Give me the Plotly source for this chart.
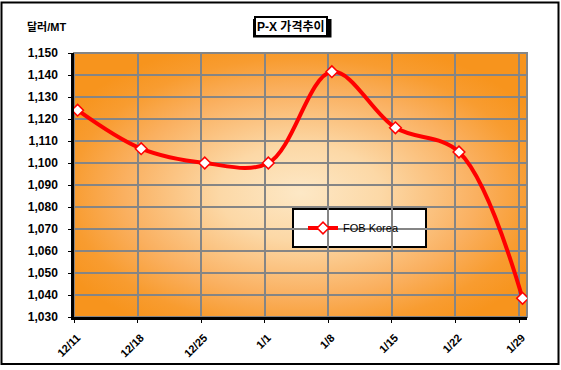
import base64
import plotly.graph_objects as go

# ---- data ----
categories = ["12/11", "12/18", "12/25", "1/1", "1/8", "1/15", "1/22", "1/29"]
fob_korea = [1124, 1106.5, 1100, 1100, 1141.5, 1116, 1105, 1038.5]
y_ticks = list(range(1030, 1151, 10))
series_name = "FOB Korea"
title_text = "P-X 가격추이"
unit_text = "달러/MT"

# ---- geometry helpers (pixel -> paper) ----
W, H = 561, 370
L, R, T, B = 74, 527, 53, 317
PW, PH = R - L, B - T


def fx(px):
    return (px - L) / PW


def fy(py):
    return (B - py) / PH


idx = list(range(len(categories)))
tick_pos = [i - 0.055 for i in idx]

FONT = "Liberation Sans, Arial, Noto Sans CJK KR, sans-serif"

# radial (centre-out) gradient for plot background
svg = (
    "<svg xmlns='http://www.w3.org/2000/svg' width='453' height='264' "
    "viewBox='0 0 453 264' preserveAspectRatio='none'>"
    "<defs><radialGradient id='g' cx='0.5' cy='0.53' r='0.6'>"
    "<stop offset='0' stop-color='#FDE8C6'/>"
    "<stop offset='0.3' stop-color='#FCD8A6'/>"
    "<stop offset='0.65' stop-color='#FAB060'/>"
    "<stop offset='0.85' stop-color='#F89C30'/>"
    "<stop offset='1' stop-color='#F7941D'/>"
    "</radialGradient></defs>"
    "<rect x='0' y='0' width='453' height='264' fill='url(#g)'/></svg>"
)
src = "data:image/svg+xml;base64," + base64.b64encode(svg.encode("utf-8")).decode("ascii")

fig = go.Figure()
fig.add_trace(
    go.Scatter(
        x=idx,
        y=fob_korea,
        mode="lines+markers",
        name=series_name,
        line=dict(color="#FF0000", width=4, shape="spline", smoothing=1.0),
        marker=dict(symbol="diamond", size=9, color="white",
                    line=dict(color="#FF0000", width=1.5)),
    )
)

fig.update_layout(
    width=W,
    height=H,
    autosize=False,
    margin=dict(l=L, r=W - R, t=T, b=H - B, pad=0, autoexpand=False),
    paper_bgcolor="white",
    plot_bgcolor="#F7941D",
    font=dict(family=FONT, color="black", size=12),
    showlegend=True,
    legend=dict(
        x=fx(303), y=fy(228), xanchor="left", yanchor="middle",
        bgcolor="rgba(0,0,0,0)", borderwidth=0,
        font=dict(family=FONT, size=11, color="black"),
        itemwidth=30,
    ),
    xaxis=dict(
        range=[-0.057, 7.07],
        tickmode="array",
        tickvals=tick_pos,
        ticktext=categories,
        tickangle=-45,
        automargin=False,
        showgrid=True, gridcolor="#858585", gridwidth=2,
        showline=True, linecolor="black", linewidth=3,
        ticks="outside", ticklen=3, tickcolor="black", tickwidth=1,
        tickfont=dict(family=FONT, size=11, color="black", weight="bold"),
        ticklabelshift=3,
        ticklabelstandoff=4,
        zeroline=False,
        fixedrange=True,
    ),
    yaxis=dict(
        range=[1030, 1150],
        tickmode="array",
        tickvals=y_ticks,
        tickformat=",",
        automargin=False,
        showgrid=True, gridcolor="#858585", gridwidth=2,
        showline=True, linecolor="black", linewidth=2.5,
        ticks="outside", ticklen=3, tickcolor="black", tickwidth=1,
        tickfont=dict(family=FONT, size=12, color="black", weight="bold"),
        ticklabelstandoff=8,
        zeroline=False,
        fixedrange=True,
    ),
    images=[dict(
        source=src, xref="paper", yref="paper", x=0, y=1,
        sizex=1, sizey=1, sizing="stretch", layer="below",
        xanchor="left", yanchor="top",
    )],
    shapes=[
        # outer chart border
        dict(type="rect", xref="paper", yref="paper",
             x0=fx(1.5), x1=fx(558.5), y0=fy(364), y1=fy(2.5),
             line=dict(color="black", width=2), fillcolor="rgba(0,0,0,0)", layer="above"),
        # plot-area outline (grey)
        dict(type="rect", xref="paper", yref="paper",
             x0=0, x1=1, y0=0, y1=1,
             line=dict(color="#858585", width=2), fillcolor="rgba(0,0,0,0)", layer="between"),
        # legend box
        dict(type="rect", xref="paper", yref="paper",
             x0=fx(293), x1=fx(426), y0=fy(247), y1=fy(209),
             line=dict(color="black", width=2), fillcolor="white", layer="between"),
        # title box shadow
        dict(type="rect", xref="paper", yref="paper",
             x0=fx(253), x1=fx(331.5), y0=fy(37.5), y1=fy(19),
             line=dict(color="black", width=0), fillcolor="black", layer="above"),
    ],
    annotations=[
        dict(text=title_text, xref="paper", yref="paper",
             x=fx(290.5), y=fy(26.5), xanchor="center", yanchor="middle",
             showarrow=False, bgcolor="white", bordercolor="black", borderwidth=2,
             borderpad=1,
             font=dict(family=FONT, size=12, color="black", weight="bold")),
        dict(text=unit_text, xref="paper", yref="paper",
             x=fx(25), y=fy(27), xanchor="left", yanchor="middle",
             showarrow=False,
             font=dict(family=FONT, size=11, color="black", weight="bold")),
    ],
)

fig.write_html(
    "out.html",
    config={"displayModeBar": False, "responsive": False},
    default_width="561px",
    default_height="370px",
    post_script=(
        "document.documentElement.style.margin='0';"
        "document.documentElement.style.overflow='hidden';"
        "document.body.style.margin='0';document.body.style.padding='0';"
        "document.body.style.overflow='hidden';window.scrollTo(0,0);"
    ),
)
